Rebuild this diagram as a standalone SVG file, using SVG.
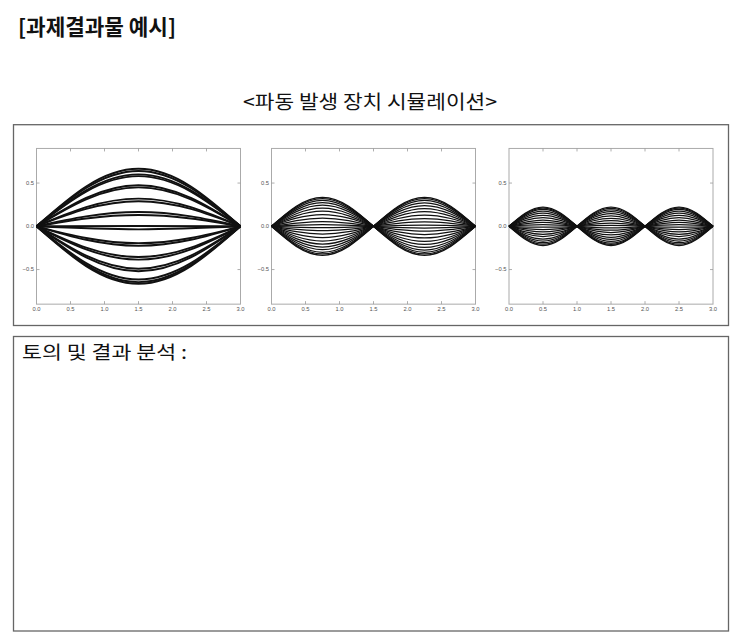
<svg xmlns="http://www.w3.org/2000/svg" xmlns:xlink="http://www.w3.org/1999/xlink" width="743" height="640" viewBox="0 0 743 640">
<style>
.kr{font-family:"Noto Sans CJK KR","Noto Sans",sans-serif;fill:#111}
.tick{font-family:"Liberation Sans","DejaVu Sans",sans-serif;font-size:5.8px;fill:#555}
.box{fill:none;stroke:#666;stroke-width:1.3}
.frame{fill:none;stroke:#aaa;stroke-width:1}
.tk{fill:none;stroke:#999;stroke-width:0.8}
.c1{fill:none;stroke:#111;stroke-width:1.9}
.c2{fill:none;stroke:#111;stroke-width:1.25}
</style>
<defs>
<path id="w1" vector-effect="non-scaling-stroke" d="M0,0 C0.16307,-0.51229 0.31904,-1 0.5,-1 S0.83693,-0.51229 1,0"/>
<path id="w2" vector-effect="non-scaling-stroke" d="M0,0 C0.16307,-0.51229 0.31904,-1 0.5,-1 S0.83693,-0.51229 1,0 C1.16307,0.51229 1.31904,1 1.5,1 S1.83693,0.51229 2,0"/>
<path id="w3" vector-effect="non-scaling-stroke" d="M0,0 C0.16307,-0.51229 0.31904,-1 0.5,-1 S0.83693,-0.51229 1,0 C1.16307,0.51229 1.31904,1 1.5,1 S1.83693,0.51229 2,0 C2.16307,-0.51229 2.31904,-1 2.5,-1 S2.83693,-0.51229 3,0"/>
<g id="axes">
<rect class="frame" x="0" y="-77.85" width="204" height="155.7"/>
<path class="tk" d="M34,77.85v-3M68,77.85v-3M102,77.85v-3M136,77.85v-3M170,77.85v-3M34,-77.85v3M68,-77.85v3M102,-77.85v3M136,-77.85v3M170,-77.85v3M0,-43.25h3M0,0h3M0,43.25h3M204,-43.25h-3M204,0h-3M204,43.25h-3"/>
<g class="tick" text-anchor="middle">
<text x="0" y="85">0.0</text><text x="34" y="85">0.5</text><text x="68" y="85">1.0</text><text x="102" y="85">1.5</text><text x="136" y="85">2.0</text><text x="170" y="85">2.5</text><text x="204" y="85">3.0</text>
</g>
<g class="tick" text-anchor="end">
<text x="-2.5" y="-41.3">0.5</text><text x="-2.5" y="2">0.0</text><text x="-2.5" y="45.2">−0.5</text>
</g>
</g>
</defs>

<g id="title"><text class="kr" x="18" y="35" font-size="21.5" font-weight="bold" textLength="158" lengthAdjust="spacingAndGlyphs">[과제결과물 예시]</text></g>
<g id="subtitle"><text class="kr" x="370" y="109" font-size="19" text-anchor="middle" textLength="254" lengthAdjust="spacingAndGlyphs">&lt;파동 발생 장치 시뮬레이션&gt;</text></g>

<g id="sim-box"><rect class="box" x="13.5" y="124.7" width="715" height="200.8"/></g>

<g id="plot1" transform="translate(36.5,226.3)">
<use href="#axes"/>
<g class="c1" transform="scale(204,86.5)">
<use href="#w1" transform="scale(1,0.665)"/><use href="#w1" transform="scale(1,0.64)"/><use href="#w1" transform="scale(1,0.6)"/><use href="#w1" transform="scale(1,0.58)"/>
<use href="#w1" transform="scale(1,0.475)"/><use href="#w1" transform="scale(1,0.45)"/><use href="#w1" transform="scale(1,0.32)"/><use href="#w1" transform="scale(1,0.29)"/>
<use href="#w1" transform="scale(1,0.165)"/><use href="#w1" transform="scale(1,0.13)"/><use href="#w1" transform="scale(1,0.004)"/><use href="#w1" transform="scale(1,-0.035)"/>
<use href="#w1" transform="scale(1,-0.195)"/><use href="#w1" transform="scale(1,-0.225)"/><use href="#w1" transform="scale(1,-0.355)"/><use href="#w1" transform="scale(1,-0.385)"/>
<use href="#w1" transform="scale(1,-0.49)"/><use href="#w1" transform="scale(1,-0.52)"/><use href="#w1" transform="scale(1,-0.615)"/><use href="#w1" transform="scale(1,-0.645)"/><use href="#w1" transform="scale(1,-0.665)"/>
</g>
</g>

<g id="plot2" transform="translate(271.5,226.3)">
<use href="#axes"/>
<g class="c2" transform="scale(102,86.5)">
<use href="#w2" transform="scale(1,0.335)"/><use href="#w2" transform="scale(1,0.32)"/><use href="#w2" transform="scale(1,0.3)"/><use href="#w2" transform="scale(1,0.275)"/>
<use href="#w2" transform="scale(1,0.245)"/><use href="#w2" transform="scale(1,0.21)"/><use href="#w2" transform="scale(1,0.175)"/><use href="#w2" transform="scale(1,0.135)"/>
<use href="#w2" transform="scale(1,0.095)"/><use href="#w2" transform="scale(1,0.055)"/><use href="#w2" transform="scale(1,0.02)"/><use href="#w2" transform="scale(1,-0.015)"/>
<use href="#w2" transform="scale(1,-0.05)"/><use href="#w2" transform="scale(1,-0.09)"/><use href="#w2" transform="scale(1,-0.13)"/><use href="#w2" transform="scale(1,-0.17)"/>
<use href="#w2" transform="scale(1,-0.205)"/><use href="#w2" transform="scale(1,-0.24)"/><use href="#w2" transform="scale(1,-0.27)"/><use href="#w2" transform="scale(1,-0.3)"/>
<use href="#w2" transform="scale(1,-0.32)"/><use href="#w2" transform="scale(1,-0.335)"/>
</g>
</g>

<g id="plot3" transform="translate(509,226.3)">
<use href="#axes"/>
<g class="c2" transform="scale(68,86.5)">
<use href="#w3" transform="scale(1,0.222)"/><use href="#w3" transform="scale(1,0.21)"/><use href="#w3" transform="scale(1,0.195)"/><use href="#w3" transform="scale(1,0.175)"/>
<use href="#w3" transform="scale(1,0.152)"/><use href="#w3" transform="scale(1,0.127)"/><use href="#w3" transform="scale(1,0.1)"/><use href="#w3" transform="scale(1,0.072)"/>
<use href="#w3" transform="scale(1,0.045)"/><use href="#w3" transform="scale(1,0.018)"/><use href="#w3" transform="scale(1,-0.01)"/><use href="#w3" transform="scale(1,-0.037)"/>
<use href="#w3" transform="scale(1,-0.065)"/><use href="#w3" transform="scale(1,-0.093)"/><use href="#w3" transform="scale(1,-0.12)"/><use href="#w3" transform="scale(1,-0.147)"/>
<use href="#w3" transform="scale(1,-0.17)"/><use href="#w3" transform="scale(1,-0.19)"/><use href="#w3" transform="scale(1,-0.207)"/><use href="#w3" transform="scale(1,-0.222)"/>
</g>
</g>

<g id="discussion-box">
<rect class="box" x="13.5" y="336.5" width="715" height="294.5"/>
<text class="kr" x="22" y="359" font-size="18" textLength="165" lengthAdjust="spacingAndGlyphs">토의 및 결과 분석 :</text>
</g>
</svg>
